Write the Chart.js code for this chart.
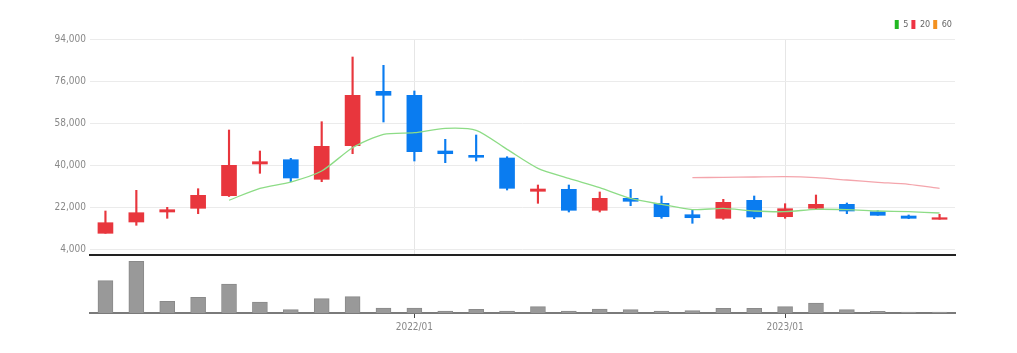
<!DOCTYPE html>
<html>
<head>
<meta charset="utf-8">
<script src="https://cdn.jsdelivr.net/npm/chart.js@4.4.1/dist/chart.umd.min.js"></script>
<style>
  html, body { margin: 0; padding: 0; background: #fff; }
  #wrap { position: relative; width: 1017px; height: 353px; }
  canvas { position: absolute; left: 0; }
  #priceChart { top: 0; }
  #volChart { top: 256px; }
</style>
</head>
<body>
<div id="wrap">
  <canvas id="priceChart" width="1017" height="265"></canvas>
  <canvas id="volChart" width="1017" height="97"></canvas>
</div>
<script>
const labels = [
  '2021/03', '2021/04', '2021/05', '2021/06', '2021/07', '2021/08', '2021/09', '2021/10', '2021/11', '2021/12',
  '2022/01', '2022/02', '2022/03', '2022/04', '2022/05', '2022/06', '2022/07', '2022/08', '2022/09', '2022/10',
  '2022/11', '2022/12', '2023/01', '2023/02', '2023/03', '2023/04', '2023/05', '2023/06'
];
const opens = [10730, 15572, 19857, 21443, 26843, 40429, 42271, 33871, 48271, 71586, 69871, 46000, 44157, 43000,
  28729, 29586, 20586, 25729, 23586, 18700, 17157, 24871, 17843, 21443, 23157, 19986, 18143, 16729];
const closes = [15270, 19557, 20843, 27014, 39871, 41414, 34429, 48014, 69871, 69871, 45700, 44843, 43300, 30014,
  29714, 20586, 25729, 24443, 17843, 17414, 24014, 17714, 21271, 23157, 20286, 18443, 17157, 17414];
const highs = [20286, 29157, 21870, 29843, 55000, 46000, 42871, 58557, 86286, 82729, 71714, 51014, 52857, 43557,
  31429, 31429, 28429, 29586, 26714, 21014, 25300, 26714, 23414, 27143, 23714, 20414, 18571, 18871];
const lows = [10730, 14157, 17157, 19129, 26500, 36443, 32843, 32843, 44843, 58429, 41714, 40986, 41714, 29286,
  23586, 19857, 19857, 22557, 17157, 15014, 16729, 16986, 17157, 21143, 19129, 18443, 16986, 16729];
const volumes = [3230, 5160, 1170, 1570, 2900, 1100, 330, 1430, 1630, 500, 500, 200, 370, 200,
  630, 200, 400, 330, 200, 230, 470, 470, 630, 1000, 330, 170, 100, 100];
const ma5 = [null, null, null, null, 24900, 30000, 32714, 37430, 47400, 53140, 53870, 55700, 54870, 46700,
  38570, 34290, 30270, 25700, 23140, 20860, 21430, 20290, 20000, 21000, 20860, 20290, 20000, 19430];
const ma20 = [null, null, null, null, null, null, null, null, null, null, null, null, null, null,
  null, null, null, null, null, 34570, 34700, 34860, 35000, 34570, 33570, 32590, 31720, 30000];
const ma60 = labels.map(() => null);
const yTicks = [4000, 22000, 40000, 58000, 76000, 94000];

const UP = '#e8363d';
const DOWN = '#0a7cf0';
const candleColors = opens.map((o, i) => closes[i] >= o ? UP : DOWN);
const markIdx = [labels.indexOf('2022/01'), labels.indexOf('2023/01')];
const FONT = "'Liberation Sans Narrow', 'DejaVu Sans Condensed', sans-serif";

const fixWidth = scale => { scale.width = 90; };

// price chart
new Chart(document.getElementById('priceChart'), {
  type: 'bar',
  data: {
    labels,
    datasets: [
      { type: 'line', label: '5', data: ma5, borderColor: '#8ddc86', backgroundColor: '#22b822',
        borderWidth: 1.3, pointRadius: 0, tension: 0.25, order: 0 },
      { type: 'line', label: '20', data: ma20, borderColor: '#f4a5ac', backgroundColor: '#ee3344',
        borderWidth: 1.3, pointRadius: 0, tension: 0.25, order: 0 },
      { type: 'line', label: '60', data: ma60, borderColor: '#f3a23a', backgroundColor: '#f39120',
        borderWidth: 1.3, pointRadius: 0, order: 0 },
      { label: 'body', data: opens.map((o, i) => [o, closes[i]]), backgroundColor: candleColors,
        barThickness: 15, grouped: false, order: 1 },
      { label: 'wick', data: lows.map((l, i) => [l, highs[i]]), backgroundColor: candleColors,
        barThickness: 1.5, grouped: false, order: 2 }
    ]
  },
  options: {
    responsive: false,
    animation: false,
    layout: { padding: { left: 0, right: 62, top: 17, bottom: 2 } },
    plugins: {
      tooltip: { enabled: false },
      legend: {
        position: 'top',
        align: 'end',
        labels: {
          boxWidth: 4,
          boxHeight: 9,
          padding: 3,
          color: '#666',
          font: { family: FONT, size: 9 },
          filter: item => ['5', '20', '60'].includes(item.text),
          generateLabels: chart => chart.data.datasets.map((ds, i) => ({
            text: ds.label, fillStyle: ds.backgroundColor, strokeStyle: ds.backgroundColor,
            lineWidth: 0, hidden: false, datasetIndex: i, fontColor: '#666'
          }))
        }
      }
    },
    scales: {
      x: {
        grid: {
          offset: false,
          drawTicks: false,
          color: ctx => markIdx.includes(ctx.index) ? '#e6e6e6' : 'rgba(0,0,0,0)'
        },
        border: { color: '#222', width: 2 },
        ticks: { display: false }
      },
      y: {
        min: 1430,
        max: 94000,
        afterBuildTicks: scale => { scale.ticks = yTicks.map(v => ({ value: v })); },
        afterFit: fixWidth,
        grid: { color: '#ebebeb', drawTicks: false },
        border: { display: false },
        ticks: {
          padding: 4,
          color: '#888',
          font: { family: FONT, size: 10 },
          callback: v => v.toLocaleString('en-US')
        }
      }
    }
  }
});

// volume chart
new Chart(document.getElementById('volChart'), {
  type: 'bar',
  data: {
    labels,
    datasets: [
      { label: 'volume', data: volumes, backgroundColor: '#999', borderColor: '#8a8a8a',
        borderWidth: 1, barThickness: 15 }
    ]
  },
  options: {
    responsive: false,
    animation: false,
    layout: { padding: { left: 0, right: 62, top: 2, bottom: 17 } },
    plugins: { legend: { display: false }, tooltip: { enabled: false } },
    scales: {
      x: {
        grid: {
          offset: false,
          drawOnChartArea: false,
          tickLength: 5,
          color: ctx => markIdx.includes(ctx.index) ? '#444' : 'rgba(0,0,0,0)'
        },
        border: { color: '#7a7a7a', width: 2 },
        ticks: {
          autoSkip: false,
          maxRotation: 0,
          padding: 3,
          color: '#888',
          font: { family: FONT, size: 10 },
          callback: function (v, i) { return markIdx.includes(i) ? this.getLabelForValue(v) : ''; }
        }
      },
      y: {
        min: 0,
        max: 5500,
        afterFit: fixWidth,
        grid: { display: false },
        border: { display: false },
        ticks: { display: false }
      }
    }
  }
});
</script>
</body>
</html>
